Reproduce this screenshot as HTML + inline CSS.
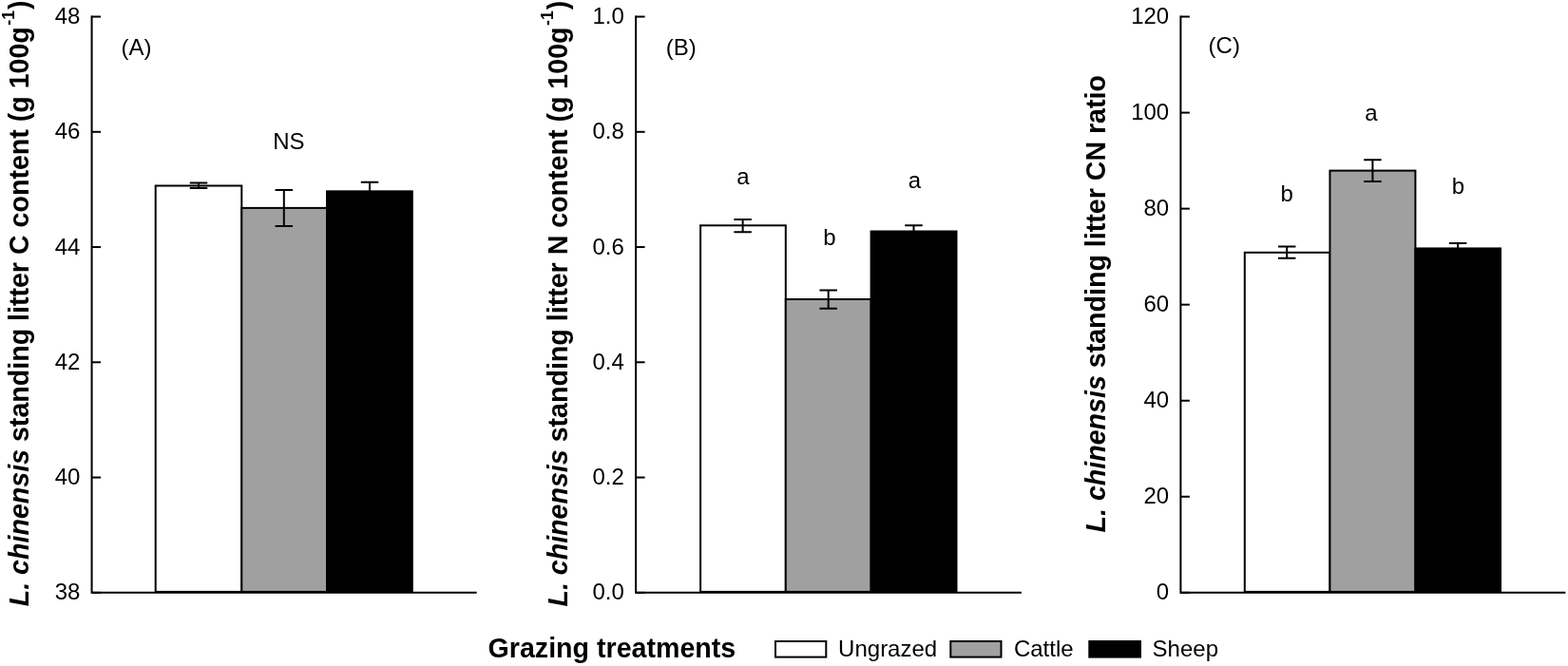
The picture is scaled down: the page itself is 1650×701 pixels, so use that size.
<!DOCTYPE html><html><head><meta charset="utf-8"><title>Grazing treatments</title>
<style>html,body{margin:0;padding:0;background:#fff;overflow:hidden;}svg{display:block;}text{font-family:"Liberation Sans",Arial,sans-serif;fill:#000;}.t{font-size:24.0px;}.ti{font-size:28.6px;font-weight:bold;}</style></head><body>
<svg width="1650" height="701" viewBox="0 0 1650 701">
<rect x="0" y="0" width="1650" height="701" fill="#fff"/>
<rect x="163.70" y="195.50" width="90.60" height="427.40" fill="#ffffff" stroke="#000" stroke-width="2"/>
<rect x="254.30" y="218.90" width="89.70" height="404.00" fill="#a0a0a0" stroke="#000" stroke-width="2"/>
<rect x="344.00" y="201.35" width="89.80" height="421.55" fill="#000000" stroke="#000" stroke-width="2"/>
<path d="M209.00 192.60V198.10M199.75 192.60H218.25M199.75 198.10H218.25" stroke="#000" stroke-width="2" fill="none"/>
<path d="M298.80 200.10V238.00M289.55 200.10H308.05M289.55 238.00H308.05" stroke="#000" stroke-width="2" fill="none"/>
<path d="M389.00 191.80V210.00M379.75 191.80H398.25M379.75 210.00H398.25" stroke="#000" stroke-width="2" fill="none"/>
<path d="M96.55 16.55V623.80H501.70" stroke="#000" stroke-width="2" fill="none" stroke-linejoin="miter"/>
<path d="M96.55 623.80H106.05" stroke="#000" stroke-width="2"/>
<text class="t" transform="translate(84.35 631.40)" text-anchor="end">38</text>
<path d="M96.55 502.55H106.05" stroke="#000" stroke-width="2"/>
<text class="t" transform="translate(84.35 510.15)" text-anchor="end">40</text>
<path d="M96.55 381.30H106.05" stroke="#000" stroke-width="2"/>
<text class="t" transform="translate(84.35 388.90)" text-anchor="end">42</text>
<path d="M96.55 260.05H106.05" stroke="#000" stroke-width="2"/>
<text class="t" transform="translate(84.35 267.65)" text-anchor="end">44</text>
<path d="M96.55 138.80H106.05" stroke="#000" stroke-width="2"/>
<text class="t" transform="translate(84.35 146.40)" text-anchor="end">46</text>
<path d="M96.55 17.55H106.05" stroke="#000" stroke-width="2"/>
<text class="t" transform="translate(84.35 25.15)" text-anchor="end">48</text>
<text class="t" transform="translate(127.40 58.20)">(A)</text>
<text class="t" transform="translate(303.90 156.80)" text-anchor="middle">NS</text>
<text class="ti" transform="translate(29.90 638.25) rotate(-90)"><tspan font-style="italic">L. chinensis</tspan> standing litter C content (g 100g<tspan font-size="17.7" dx="1.5" dy="-14.5">-1</tspan><tspan dx="1" dy="14.5">)</tspan></text>
<rect x="737.10" y="237.30" width="89.70" height="385.60" fill="#ffffff" stroke="#000" stroke-width="2"/>
<rect x="826.80" y="315.00" width="89.80" height="307.90" fill="#a0a0a0" stroke="#000" stroke-width="2"/>
<rect x="916.60" y="243.50" width="89.90" height="379.40" fill="#000000" stroke="#000" stroke-width="2"/>
<path d="M781.60 231.00V244.20M772.35 231.00H790.85M772.35 244.20H790.85" stroke="#000" stroke-width="2" fill="none"/>
<path d="M871.70 305.40V324.70M862.45 305.40H880.95M862.45 324.70H880.95" stroke="#000" stroke-width="2" fill="none"/>
<path d="M961.50 237.20V250.00M952.25 237.20H970.75M952.25 250.00H970.75" stroke="#000" stroke-width="2" fill="none"/>
<path d="M669.10 16.55V623.80H1074.90" stroke="#000" stroke-width="2" fill="none" stroke-linejoin="miter"/>
<path d="M669.10 623.80H678.60" stroke="#000" stroke-width="2"/>
<text class="t" transform="translate(656.90 631.40)" text-anchor="end">0.0</text>
<path d="M669.10 502.55H678.60" stroke="#000" stroke-width="2"/>
<text class="t" transform="translate(656.90 510.15)" text-anchor="end">0.2</text>
<path d="M669.10 381.30H678.60" stroke="#000" stroke-width="2"/>
<text class="t" transform="translate(656.90 388.90)" text-anchor="end">0.4</text>
<path d="M669.10 260.05H678.60" stroke="#000" stroke-width="2"/>
<text class="t" transform="translate(656.90 267.65)" text-anchor="end">0.6</text>
<path d="M669.10 138.80H678.60" stroke="#000" stroke-width="2"/>
<text class="t" transform="translate(656.90 146.40)" text-anchor="end">0.8</text>
<path d="M669.10 17.55H678.60" stroke="#000" stroke-width="2"/>
<text class="t" transform="translate(656.90 25.15)" text-anchor="end">1.0</text>
<text class="t" transform="translate(700.75 58.40)">(B)</text>
<text class="t" transform="translate(781.80 194.30) scale(1 0.985)" text-anchor="middle">a</text>
<text class="t" transform="translate(872.80 257.80) scale(1 0.985)" text-anchor="middle">b</text>
<text class="t" transform="translate(962.50 197.90) scale(1 0.985)" text-anchor="middle">a</text>
<text class="ti" transform="translate(596.80 638.55) rotate(-90)"><tspan font-style="italic">L. chinensis</tspan> standing litter N content (g 100g<tspan font-size="17.7" dx="1.5" dy="-14.5">-1</tspan><tspan dx="1" dy="14.5">)</tspan></text>
<rect x="1309.80" y="265.80" width="89.65" height="357.10" fill="#ffffff" stroke="#000" stroke-width="2"/>
<rect x="1399.45" y="179.60" width="89.95" height="443.30" fill="#a0a0a0" stroke="#000" stroke-width="2"/>
<rect x="1489.40" y="261.45" width="89.60" height="361.45" fill="#000000" stroke="#000" stroke-width="2"/>
<path d="M1354.20 259.60V271.75M1344.95 259.60H1363.45M1344.95 271.75H1363.45" stroke="#000" stroke-width="2" fill="none"/>
<path d="M1444.40 168.30V191.10M1435.15 168.30H1453.65M1435.15 191.10H1453.65" stroke="#000" stroke-width="2" fill="none"/>
<path d="M1534.10 256.10V265.00M1524.85 256.10H1543.35M1524.85 265.00H1543.35" stroke="#000" stroke-width="2" fill="none"/>
<path d="M1242.40 16.55V623.80H1647.40" stroke="#000" stroke-width="2" fill="none" stroke-linejoin="miter"/>
<path d="M1242.40 623.80H1251.90" stroke="#000" stroke-width="2"/>
<text class="t" transform="translate(1230.20 631.40)" text-anchor="end">0</text>
<path d="M1242.40 522.76H1251.90" stroke="#000" stroke-width="2"/>
<text class="t" transform="translate(1230.20 530.36)" text-anchor="end">20</text>
<path d="M1242.40 421.72H1251.90" stroke="#000" stroke-width="2"/>
<text class="t" transform="translate(1230.20 429.32)" text-anchor="end">40</text>
<path d="M1242.40 320.67H1251.90" stroke="#000" stroke-width="2"/>
<text class="t" transform="translate(1230.20 328.27)" text-anchor="end">60</text>
<path d="M1242.40 219.63H1251.90" stroke="#000" stroke-width="2"/>
<text class="t" transform="translate(1230.20 227.23)" text-anchor="end">80</text>
<path d="M1242.40 118.59H1251.90" stroke="#000" stroke-width="2"/>
<text class="t" transform="translate(1230.20 126.19)" text-anchor="end">100</text>
<path d="M1242.40 17.55H1251.90" stroke="#000" stroke-width="2"/>
<text class="t" transform="translate(1230.20 25.15)" text-anchor="end">120</text>
<text class="t" transform="translate(1271.60 55.60)">(C)</text>
<text class="t" transform="translate(1354.20 211.70) scale(1 0.985)" text-anchor="middle">b</text>
<text class="t" transform="translate(1442.80 127.00) scale(1 0.985)" text-anchor="middle">a</text>
<text class="t" transform="translate(1534.50 204.00) scale(1 0.985)" text-anchor="middle">b</text>
<text class="ti" transform="translate(1162.70 560.45) rotate(-90)"><tspan font-style="italic">L. chinensis</tspan> standing litter CN ratio</text>
<text class="ti" transform="translate(513.60 692.30)">Grazing treatments</text>
<rect x="816.00" y="675.00" width="53.30" height="16.60" fill="#fff" stroke="#000" stroke-width="2"/>
<text class="t" transform="translate(882.10 690.60)">Ungrazed</text>
<rect x="1000.30" y="675.00" width="53.20" height="16.60" fill="#a0a0a0" stroke="#000" stroke-width="2"/>
<text class="t" transform="translate(1066.90 690.60)">Cattle</text>
<rect x="1146.30" y="675.00" width="53.70" height="16.60" fill="#000" stroke="#000" stroke-width="2"/>
<text class="t" transform="translate(1212.60 690.60)">Sheep</text>
</svg></body></html>
